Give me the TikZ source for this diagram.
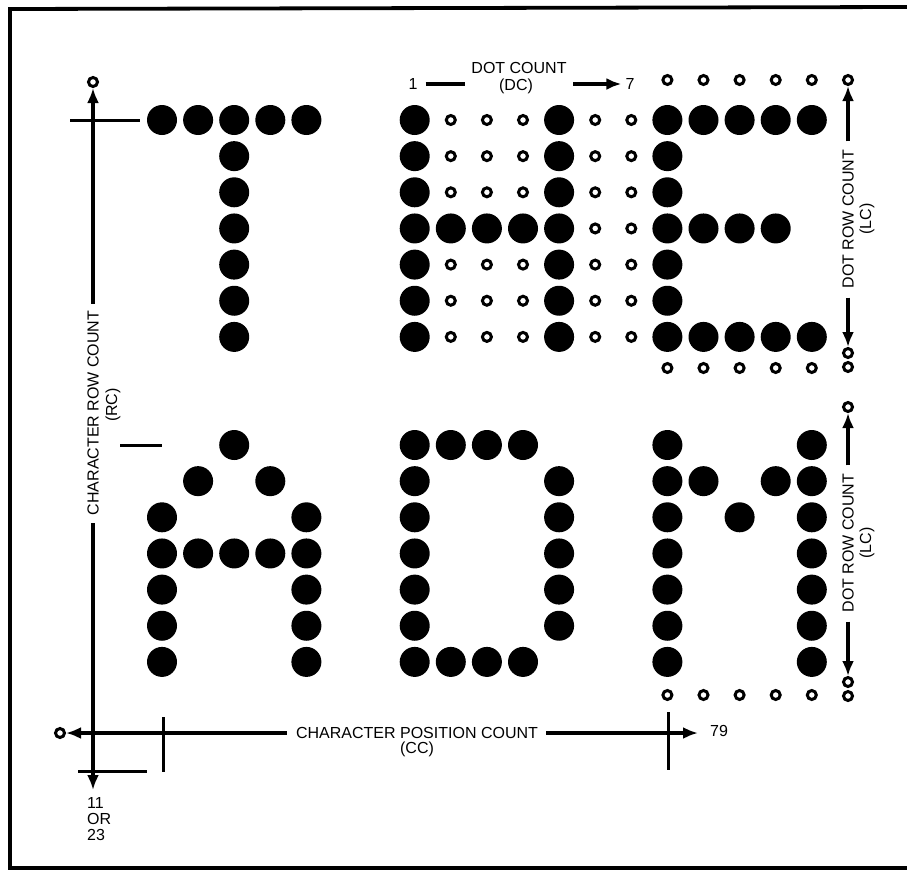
\documentclass[tikz,border=0pt]{standalone}
\usepackage{fontspec}
\setmainfont{Liberation Sans}
\usetikzlibrary{arrows.meta}
\begin{document}
\begin{tikzpicture}[x=1pt,y=-1pt,
  lbl/.style={font=\fontsize{16}{16}\selectfont, inner sep=0pt},
  ln/.style={line width=3.2pt},
  arr/.style={ln,-{Latex[length=15pt,width=12pt]}},
  ring/.style={circle,draw,line width=3pt,inner sep=0pt,minimum size=9pt},
  ringline/.style={line width=3pt},
  tickline/.style={line width=3pt},
  frameline/.style={line width=3.8pt}]
\useasboundingbox (0,0) rectangle (907,881);
% frame
\draw[frameline] (907,7) -- (10,9) -- (10,868) -- (907,868);

% ---- top block (THE) ----
\foreach \c/\r in {0/0,1/0,2/0,3/0,4/0,2/1,2/2,2/3,2/4,2/5,2/6,
  7/0,7/1,7/2,7/3,7/4,7/5,7/6,11/0,11/1,11/2,11/3,11/4,11/5,11/6,8/3,9/3,10/3,
  14/0,14/1,14/2,14/3,14/4,14/5,14/6,15/0,16/0,17/0,18/0,15/3,16/3,17/3,15/6,16/6,17/6,18/6}
  \fill ({162+36.1*\c},{120+36.15*\r}) circle[radius=15pt];
\foreach \c/\r in {8/0,9/0,10/0,8/1,9/1,10/1,8/2,9/2,10/2,8/4,9/4,10/4,8/5,9/5,10/5,8/6,9/6,10/6,
  12/0,13/0,12/1,13/1,12/2,13/2,12/3,13/3,12/4,13/4,12/5,13/5,12/6,13/6}
  \draw[ringline] ({162+36.1*\c},{120+36.15*\r}) circle[radius=4.5pt];
\foreach \c in {14,...,18} {
  \draw[ringline] ({162+36.1*\c},80) circle[radius=4.5pt];
  \draw[ringline] ({162+36.1*\c},368) circle[radius=4.5pt];
  \draw[ringline] ({162+36.1*\c},695) circle[radius=4.5pt];
}

% ---- bottom block (ADM) ----
\foreach \c/\r in {2/0,1/1,3/1,0/2,0/3,0/4,0/5,0/6,4/2,4/3,4/4,4/5,4/6,1/3,2/3,3/3,
  7/0,8/0,9/0,10/0,7/1,7/2,7/3,7/4,7/5,11/1,11/2,11/3,11/4,11/5,7/6,8/6,9/6,10/6,
  14/0,14/1,14/2,14/3,14/4,14/5,14/6,18/0,18/1,18/2,18/3,18/4,18/5,18/6,15/1,17/1,16/2}
  \fill ({162+36.1*\c},{445+36.15*\r}) circle[radius=15pt];

% ---- character row count (left) ----
\node[ring] (rc0) at (93,82) {};
\node[lbl,rotate=90] (rct) at (93,413) {CHARACTER ROW COUNT};
\node[lbl,rotate=90] (rcs) at (113,405) {(RC)};
\coordinate (rcend) at (93,790);
\draw[arr] ([yshift=7pt]rct.east) -- (rc0);
\draw[arr] ([yshift=-8pt]rct.west) -- (rcend);
\coordinate (ta1) at (70,120);  \coordinate (ta2) at (140,120);
\draw[tickline] (ta1) -- (ta2);
\coordinate (tb1) at (120,445); \coordinate (tb2) at (162,445);
\draw[tickline] (tb1) -- (tb2);
\coordinate (tc1) at (78,771);  \coordinate (tc2) at (147,771);
\draw[tickline] (tc1) -- (tc2);
\node[lbl,align=left,anchor=north west] (n11) at (87,797) {11\\OR\\23};

% ---- character position count (bottom) ----
\node[ring] (cc0) at (60,733) {};
\node[lbl] (cct) at (417,733) {CHARACTER POSITION COUNT};
\node[lbl] (ccs) at (417,749) {(CC)};
\coordinate (cc79) at (698,733);
\draw[arr] ([xshift=-9pt]cct.west) -- (cc0);
\draw[arr] ([xshift=8pt]cct.east) -- (cc79);
\node[lbl,anchor=west] (n79) at (710,731) {79};
\coordinate (td1) at (163,717); \coordinate (td2) at (163,772);
\draw[tickline] (td1) -- (td2);
\coordinate (te1) at (668,712); \coordinate (te2) at (668,770);
\draw[tickline] (te1) -- (te2);

% ---- dot count (top) ----
\node[lbl] (one) at (413,84) {1};
\node[lbl] (dct) at (519,68) {DOT COUNT};
\node[lbl] (dcs) at (516,86) {(DC)};
\node[lbl] (seven) at (630,84) {7};
\coordinate (dca) at (465,84);
\coordinate (dcb) at (573,84);
\draw[ln] ([xshift=8pt]one.east) -- (dca);
\draw[arr] (dcb) -- ([xshift=-4pt]seven.west);

% ---- dot row count (right, top) ----
\node[ring] (lc0) at (848,80) {};
\node[lbl,rotate=90] (lct) at (848,219) {DOT ROW COUNT};
\node[lbl,rotate=90] (lcs) at (867,219) {(LC)};
\node[ring] (lc1) at (848,353) {};
\node[ring] (lc2) at (848,367) {};
\draw[arr] ([yshift=8pt]lct.east) -- (lc0);
\draw[arr] ([yshift=-9pt]lct.west) -- (lc1);

% ---- dot row count (right, bottom) ----
\node[ring] (lc3) at (848,407) {};
\node[lbl,rotate=90] (lbt) at (848,543) {DOT ROW COUNT};
\node[lbl,rotate=90] (lbs) at (867,543) {(LC)};
\node[ring] (lc4) at (848,682) {};
\node[ring] (lc5) at (848,696) {};
\draw[arr] ([yshift=8pt]lbt.east) -- (lc3);
\draw[arr] ([yshift=-9pt]lbt.west) -- (lc4);
\end{tikzpicture}
\end{document}
